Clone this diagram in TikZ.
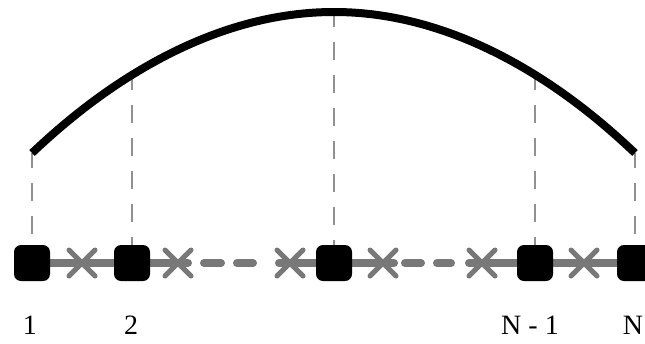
\documentclass[tikz,border=0pt]{standalone}
\usepackage{fontspec}
\setmainfont{Liberation Serif}
\usetikzlibrary{positioning,shapes.misc,backgrounds}
\definecolor{chaingray}{RGB}{120,120,120}
\definecolor{guidegray}{RGB}{145,145,145}

\begin{document}
\begin{tikzpicture}[x=1pt, y=-1pt,
    point/.style={fill=black, rounded corners=7pt, minimum size=36pt, inner sep=0pt},
    cut/.style={cross out, draw=chaingray, line width=5pt, line cap=round, minimum size=21pt, inner sep=0pt},
    link/.style={draw=chaingray, line width=8pt, line cap=round},
    guide/.style={draw=guidegray, line width=2pt, dash pattern=on 18pt off 15pt, dash phase=3pt},
    idx/.style={font=\fontsize{28}{34}\selectfont, anchor=base, inner sep=0pt},
    curve/.style={line width=8pt}
]
    \useasboundingbox (0,0) rectangle (645,343);

    % points on the chain
    \node[point] (p1) at (32,263) {};
    \node[point] (p2) at (132,263) {};
    \node[point] (pm) at (334,263) {};
    \node[point] (pn1) at (535,263) {};
    \node[point] (pn) at (635,263) {};

    % crossings between points
    \node[cut] (c1) at (82,263) {};
    \node[cut] (c2) at (178,263) {};
    \node[cut] (c3) at (290,263) {};
    \node[cut] (c4) at (383,263) {};
    \node[cut] (c5) at (482,263) {};
    \node[cut] (c6) at (584,263) {};

    % points on the curve
    \coordinate (t1) at (32,153);
    \coordinate (t2) at (132,75);
    \coordinate (tm) at (334,12);
    \coordinate (tn1) at (535,75);
    \coordinate (tn) at (635,153);

    \draw[curve] (t1) parabola bend (tm) (tn);

    \begin{scope}[on background layer]
        \draw[link] (p1.center) -- (p2.center);
        \draw[link, dash pattern=on 56pt off 16pt on 17pt off 16pt on 16pt off 26pt on 80pt off 1pt] (p2.center) -- (pm.center);
        \draw[link, dash pattern=on 60pt off 11pt on 16pt off 16pt on 14pt off 18pt on 80pt off 1pt] (pm.center) -- (pn1.center);
        \draw[link] (pn1.center) -- (pn.center);

        \draw[guide] (t1) -- (p1.center);
        \draw[guide] (t2) -- (p2.center);
        \draw[guide] (tm) -- (pm.center);
        \draw[guide] (tn1) -- (pn1.center);
        \draw[guide] (tn) -- (pn.center);
    \end{scope}

    % indices
    \node[idx] (l1) at (30,334) {1};
    \node[idx] (l2) at (131,334) {2};
    \node[idx] (ln1) at (530,334) {N - 1};
    \node[idx] (ln) at (633,334) {N};
\end{tikzpicture}
\end{document}
